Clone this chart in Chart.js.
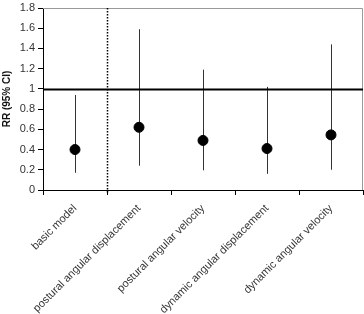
<!DOCTYPE html>
<html>
<head>
    <title>Relative risk</title>
    <script src="https://cdn.jsdelivr.net/npm/chart.js"></script>
    <style>
        html, body { margin: 0; padding: 0; background: #fff; }
        #wrap { width: 364px; height: 314px; }
    </style>
</head>
<body>
    <div id="wrap"><canvas id="plot"></canvas></div>

    <script>
        // values
        const categories = ['basic model', 'postural angular displacement', 'postural angular velocity',
                            'dynamic angular displacement', 'dynamic angular velocity'];
        const rr = [0.40, 0.62, 0.49, 0.41, 0.545];
        const ciLow = [0.17, 0.24, 0.195, 0.16, 0.20];
        const ciHigh = [0.94, 1.59, 1.19, 1.02, 1.44];
        const refValue = 1;

        // whiskers, line at RR = 1, dotted separator and the box round the plot
        const extras = {
            id: 'extras',
            beforeDatasetsDraw(chart) {
                const ctx = chart.ctx;
                const x = chart.scales.x, y = chart.scales.y;
                ctx.save();
                ctx.strokeStyle = '#333';
                ctx.lineWidth = 1;
                ciLow.forEach((lo, i) => {
                    const px = Math.round(x.getPixelForValue(i)) + 0.5;
                    ctx.beginPath();
                    ctx.moveTo(px, y.getPixelForValue(lo));
                    ctx.lineTo(px, y.getPixelForValue(ciHigh[i]));
                    ctx.stroke();
                });
                ctx.restore();
            },
            afterDatasetsDraw(chart) {
                const ctx = chart.ctx;
                const a = chart.chartArea;
                const x = chart.scales.x, y = chart.scales.y;
                ctx.save();
                ctx.strokeStyle = '#999';
                ctx.lineWidth = 1;
                ctx.beginPath();
                ctx.moveTo(a.left, a.top + 0.5);
                ctx.lineTo(a.right - 0.5, a.top + 0.5);
                ctx.lineTo(a.right - 0.5, a.bottom);
                ctx.stroke();

                const yRef = Math.round(y.getPixelForValue(refValue)) + 0.5;
                ctx.strokeStyle = '#000';
                ctx.lineWidth = 2;
                ctx.beginPath();
                ctx.moveTo(a.left, yRef);
                ctx.lineTo(a.right, yRef);
                ctx.stroke();

                const xSep = Math.round((x.getPixelForValue(0) + x.getPixelForValue(1)) / 2) + 0.5;
                ctx.lineWidth = 1.5;
                ctx.setLineDash([1.5, 1.5]);
                ctx.beginPath();
                ctx.moveTo(xSep, a.top);
                ctx.lineTo(xSep, a.bottom + 4);
                ctx.stroke();
                ctx.restore();
            }
        };

        const ctx = document.getElementById('plot').getContext('2d');
        new Chart(ctx, {
            type: 'line',
            data: {
                labels: categories,
                datasets: [{
                    label: 'RR',
                    data: rr,
                    showLine: false,
                    pointRadius: 5,
                    pointBackgroundColor: '#000',
                    pointBorderColor: '#000'
                }]
            },
            options: {
                responsive: true,
                maintainAspectRatio: false,
                animation: false,
                layout: { autoPadding: false, padding: { top: 8, right: 1, left: 0, bottom: 0 } },
                plugins: {
                    legend: { display: false },
                    tooltip: { enabled: false }
                },
                scales: {
                    x: {
                        offset: true,
                        grid: { display: true, drawOnChartArea: false, tickLength: 5, color: '#000', offset: true },
                        border: { display: true, color: '#000', width: 1 },
                        ticks: {
                            minRotation: 45, maxRotation: 45, autoSkip: false, padding: 7,
                            color: '#333', font: { family: 'Liberation Sans, Arial', size: 11 }
                        },
                        afterFit(s) { s.height = 124; s.paddingLeft = 0; s.paddingRight = 0; }
                    },
                    y: {
                        min: 0, max: 1.8,
                        grid: { display: true, drawOnChartArea: false, tickLength: 5, color: '#000' },
                        border: { display: true, color: '#000', width: 1 },
                        ticks: {
                            stepSize: 0.2, padding: 3, color: '#333',
                            font: { family: 'Liberation Sans, Arial', size: 11 },
                            callback: v => +v.toFixed(1)
                        },
                        title: {
                            display: true, text: 'RR (95% CI)', color: '#111', padding: 1,
                            font: { family: 'Liberation Sans, Arial', size: 10, weight: 'bold' }
                        },
                        afterFit(s) { s.width = 43; s.paddingTop = 0; s.paddingBottom = 0; }
                    }
                }
            },
            plugins: [extras]
        });
    </script>
</body>
</html>
